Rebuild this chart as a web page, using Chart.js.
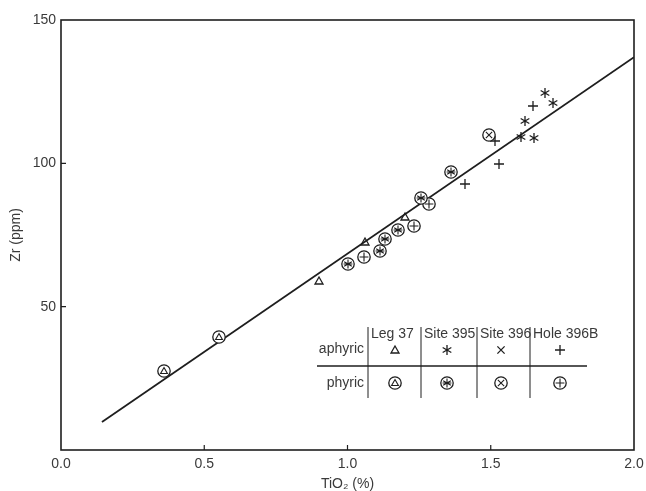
<!DOCTYPE html>
<html>
<head>
<meta charset="utf-8">
<script src="https://cdn.jsdelivr.net/npm/chart.js@4/dist/chart.umd.min.js"></script>
<style>
  body { margin: 0; background: #fff; }
  #wrap { width: 646px; height: 491px; }
</style>
</head>
<body>
<div id="wrap"><canvas id="zr"></canvas></div>
<script>
// TiO2 (%) vs Zr (ppm)
const leg37AphyricX = [0.90, 1.06, 1.20];
const leg37AphyricY = [59, 72.7, 81.4];
const leg37PhyricX = [0.36, 0.55];
const leg37PhyricY = [27.7, 39.5];
const site395AphyricX = [1.605, 1.651, 1.619, 1.690, 1.718];
const site395AphyricY = [109.3, 108.7, 114.9, 124.4, 121.1];
const site395PhyricX = [1.00, 1.115, 1.13, 1.176, 1.255, 1.362];
const site395PhyricY = [64.9, 69.5, 73.6, 76.7, 87.9, 96.9];
const site396PhyricX = [1.494];
const site396PhyricY = [109.9];
const hole396BAphyricX = [1.409, 1.515, 1.530, 1.649];
const hole396BAphyricY = [92.7, 107.8, 99.9, 120];
const hole396BPhyricX = [1.057, 1.233, 1.284];
const hole396BPhyricY = [67.2, 78.2, 85.8];
const fitX = [0.143, 2.0];
const fitY = [9.8, 137];

const ink = '#1e1e1e';
const textCol = '#3a3a3a';
const font = '"Liberation Sans", Arial, sans-serif';

function pts(xs, ys) {
    return xs.map((x, i) => ({x: x, y: ys[i]}));
}

// symbols drawn on small canvases and used as point styles
function symbol(kind) {
    const c = document.createElement('canvas');
    c.width = 16; c.height = 16;
    const g = c.getContext('2d');
    g.translate(8, 8);
    g.strokeStyle = ink;
    g.lineWidth = 1.3;
    const circle = kind.startsWith('o');
    if (circle) {
        g.beginPath();
        g.arc(0, 0, 6.2, 0, Math.PI * 2);
        g.fillStyle = '#fff';
        g.fill();
        g.stroke();
    }
    const inner = circle ? kind.slice(1) : kind;
    const r = circle ? 4.4 : 5;
    g.lineWidth = circle ? 1.1 : 1.3;
    g.beginPath();
    if (inner === 'tri') {
        const s = circle ? 3.4 : 4;
        g.moveTo(0, -s);
        g.lineTo(s, s * 0.75);
        g.lineTo(-s, s * 0.75);
        g.closePath();
    } else if (inner === 'ast') {
        for (let k = 0; k < 3; k++) {
            const a = Math.PI / 2 + k * Math.PI / 3;
            g.moveTo(Math.cos(a) * r, Math.sin(a) * r);
            g.lineTo(-Math.cos(a) * r, -Math.sin(a) * r);
        }
        if (circle) {
            g.moveTo(-r, 0); g.lineTo(r, 0);
        }
    } else if (inner === 'x') {
        const d = r * 0.72;
        g.moveTo(-d, -d); g.lineTo(d, d);
        g.moveTo(d, -d); g.lineTo(-d, d);
    } else if (inner === 'plus') {
        g.moveTo(-r, 0); g.lineTo(r, 0);
        g.moveTo(0, -r); g.lineTo(0, r);
    }
    g.stroke();
    return c;
}

const sym = {
    tri: symbol('tri'), otri: symbol('otri'),
    ast: symbol('ast'), oast: symbol('oast'),
    x: symbol('x'), ox: symbol('ox'),
    plus: symbol('plus'), oplus: symbol('oplus')
};

function scatter(label, data, style) {
    return {
        label: label,
        data: data,
        showLine: false,
        pointStyle: style,
        pointRadius: 7,
        order: 0
    };
}

// frame, inward ticks and the symbol table
const extras = {
    id: 'extras',
    beforeDatasetsDraw(chart) {
        chart.ctx.imageSmoothingEnabled = false;
    },
    afterDatasetsDraw(chart) {
        const {ctx, chartArea: a, scales} = chart;
        ctx.imageSmoothingEnabled = true;
        ctx.save();
        ctx.strokeStyle = ink;
        ctx.lineWidth = 1.6;
        ctx.strokeRect(a.left, a.top, a.right - a.left, a.bottom - a.top);
        ctx.lineWidth = 1.2;
        ctx.beginPath();
        scales.x.ticks.forEach(t => {
            if (t.value <= scales.x.min || t.value >= scales.x.max) return;
            const px = scales.x.getPixelForValue(t.value);
            ctx.moveTo(px, a.bottom); ctx.lineTo(px, a.bottom - 5);
        });
        scales.y.ticks.forEach(t => {
            if (t.value <= scales.y.min || t.value >= scales.y.max) return;
            const py = scales.y.getPixelForValue(t.value);
            ctx.moveTo(a.left, py); ctx.lineTo(a.left + 5, py);
        });
        ctx.stroke();

        // table
        const cols = [368, 421, 477, 530];
        const colMid = [395, 447, 501, 560];
        const heads = ['Leg 37', 'Site 395', 'Site 396', 'Hole 396B'];
        const top = [sym.tri, sym.ast, sym.x, sym.plus];
        const bot = [sym.otri, sym.oast, sym.ox, sym.oplus];
        ctx.lineWidth = 1;
        ctx.beginPath();
        cols.forEach(cx => { ctx.moveTo(cx, 327); ctx.lineTo(cx, 398); });
        ctx.stroke();
        ctx.lineWidth = 1.6;
        ctx.beginPath();
        ctx.moveTo(317, 366); ctx.lineTo(587, 366);
        ctx.stroke();
        ctx.fillStyle = textCol;
        ctx.font = '14px ' + font;
        ctx.textBaseline = 'middle';
        ctx.textAlign = 'right';
        ctx.fillText('aphyric', 364, 349);
        ctx.fillText('phyric', 364, 383);
        ctx.textAlign = 'left';
        heads.forEach((h, i) => ctx.fillText(h, cols[i] + 3, 334));
        top.forEach((s, i) => ctx.drawImage(s, colMid[i] - 8, 350 - 8));
        bot.forEach((s, i) => ctx.drawImage(s, colMid[i] - 8, 383 - 8));
        ctx.restore();
    }
};

const ctx = document.getElementById('zr').getContext('2d');
const chart = new Chart(ctx, {
    type: 'scatter',
    data: {
        datasets: [
            {
                label: 'fit',
                data: pts(fitX, fitY),
                showLine: true,
                borderColor: ink,
                borderWidth: 1.8,
                pointRadius: 0,
                order: 10
            },
            scatter('Leg 37 aphyric', pts(leg37AphyricX, leg37AphyricY), sym.tri),
            scatter('Leg 37 phyric', pts(leg37PhyricX, leg37PhyricY), sym.otri),
            scatter('Site 395 aphyric', pts(site395AphyricX, site395AphyricY), sym.ast),
            scatter('Site 395 phyric', pts(site395PhyricX, site395PhyricY), sym.oast),
            scatter('Site 396 phyric', pts(site396PhyricX, site396PhyricY), sym.ox),
            scatter('Hole 396B aphyric', pts(hole396BAphyricX, hole396BAphyricY), sym.plus),
            scatter('Hole 396B phyric', pts(hole396BPhyricX, hole396BPhyricY), sym.oplus)
        ]
    },
    options: {
        responsive: true,
        maintainAspectRatio: false,
        animation: false,
        events: [],
        layout: { padding: { top: 20, right: 12, left: 0, bottom: 0 } },
        plugins: {
            legend: { display: false },
            tooltip: { enabled: false }
        },
        scales: {
            x: {
                type: 'linear',
                min: 0, max: 2,
                grid: { display: false, drawTicks: false },
                border: { display: false },
                ticks: {
                    stepSize: 0.5,
                    padding: 6,
                    color: textCol,
                    font: { family: font, size: 14 },
                    callback: v => v.toFixed(1)
                },
                title: {
                    display: true,
                    text: 'TiO\u2082 (%)',
                    color: textCol,
                    font: { family: font, size: 14 },
                    padding: { top: 0, bottom: -2 }
                },
                afterFit: s => { s.height = 41; s.paddingLeft = 0; s.paddingRight = 0; }
            },
            y: {
                min: 0, max: 150,
                grid: { display: false, drawTicks: false },
                border: { display: false },
                ticks: {
                    stepSize: 50,
                    padding: 5,
                    color: textCol,
                    font: { family: font, size: 14 },
                    callback: v => v === 0 ? '' : v
                },
                title: {
                    display: true,
                    text: 'Zr (ppm)',
                    color: textCol,
                    font: { family: font, size: 14 },
                    padding: { top: 8, bottom: 0 }
                },
                afterFit: s => { s.width = 61; s.paddingTop = 0; s.paddingBottom = 0; }
            }
        }
    },
    plugins: [extras]
});
</script>
</body>
</html>
